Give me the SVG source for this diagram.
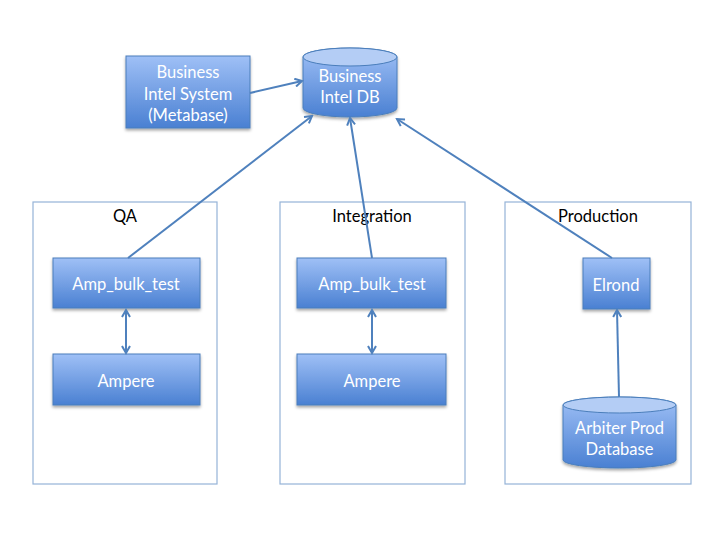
<svg xmlns="http://www.w3.org/2000/svg" width="720" height="540" viewBox="0 0 720 540">
<style>
.box{fill:url(#g);stroke:#4a7ebb;stroke-width:1;filter:url(#sh)}
.cont{fill:#fff;stroke:#95b3d7;stroke-width:1.2}
.wt{font-family:Lato,"Open Sans",sans-serif;font-size:16.5px;fill:#fff;text-anchor:middle}
.bt{font-family:Lato,"Open Sans",sans-serif;font-size:16.5px;fill:#000;text-anchor:middle}
.ln{stroke:#4f81bd;stroke-width:2;fill:none}
</style>
<defs>
<linearGradient id="g" x1="0" y1="0" x2="0" y2="1">
<stop offset="0" stop-color="#9fc0f6"/>
<stop offset="1" stop-color="#4a80d2"/>
</linearGradient>
<filter id="sh" x="-10%" y="-10%" width="120%" height="130%">
<feDropShadow dx="0" dy="2" stdDeviation="1.5" flood-color="#000" flood-opacity="0.35"/>
</filter>
<marker id="ah" markerWidth="10" markerHeight="10" refX="8" refY="5" orient="auto" markerUnits="userSpaceOnUse">
<path d="M1,1 L8,5 L1,9" fill="none" stroke="#4f81bd" stroke-width="2"/>
</marker>
<marker id="as" markerWidth="10" markerHeight="10" refX="2" refY="5" orient="auto" markerUnits="userSpaceOnUse">
<path d="M9,1 L2,5 L9,9" fill="none" stroke="#4f81bd" stroke-width="2"/>
</marker>
</defs>
<rect width="720" height="540" fill="#fff"/>

<g id="qa">
<rect class="cont" x="33" y="202" width="184" height="282"/>
<text class="bt" x="125" y="222">QA</text>
</g>
<g id="integration">
<rect class="cont" x="280" y="202" width="185" height="282"/>
<text class="bt" x="372" y="222">Integration</text>
</g>
<g id="production">
<rect class="cont" x="505" y="202" width="186" height="282"/>
<text class="bt" x="598" y="222">Production</text>
</g>

<g id="bis">
<rect class="box" x="126" y="56" width="124" height="72"/>
<text class="wt" x="188" y="78">Business</text>
<text class="wt" x="188" y="100">Intel System</text>
<text class="wt" x="188" y="121">(Metabase)</text>
</g>
<g id="bidb">
<path class="box" d="M303,57 A47,9 0 0 1 397,57 L397,108 A47,9 0 0 1 303,108 Z"/>
<ellipse cx="350" cy="57" rx="47" ry="9" fill="#b4cdf5" stroke="#4a7ebb"/>
<text class="wt" x="350" y="82">Business</text>
<text class="wt" x="350" y="103">Intel DB</text>
</g>

<g id="qa-amp">
<rect class="box" x="53" y="258" width="147" height="50"/>
<text class="wt" x="126" y="290">Amp_bulk_test</text>
</g>
<g id="qa-ampere">
<rect class="box" x="53" y="354" width="147" height="51"/>
<text class="wt" x="126" y="387">Ampere</text>
</g>
<g id="int-amp">
<rect class="box" x="297" y="258" width="149" height="50"/>
<text class="wt" x="372" y="290">Amp_bulk_test</text>
</g>
<g id="int-ampere">
<rect class="box" x="297" y="354" width="149" height="51"/>
<text class="wt" x="372" y="387">Ampere</text>
</g>
<g id="elrond">
<rect class="box" x="583" y="258" width="67" height="51"/>
<text class="wt" x="616" y="291">Elrond</text>
</g>
<g id="arbiter">
<path class="box" d="M563,405 A56.5,8 0 0 1 676,405 L676,460 A56.5,8 0 0 1 563,460 Z"/>
<ellipse cx="619.5" cy="405" rx="56.5" ry="8" fill="#b4cdf5" stroke="#4a7ebb"/>
<text class="wt" x="619.5" y="434">Arbiter Prod</text>
<text class="wt" x="619.5" y="455">Database</text>
</g>

<g id="connectors">
<line class="ln" x1="250" y1="93" x2="302" y2="81" marker-end="url(#ah)"/>
<line class="ln" x1="128" y1="258" x2="312" y2="116" marker-end="url(#ah)"/>
<line class="ln" x1="372" y1="258" x2="350" y2="118" marker-end="url(#ah)"/>
<line class="ln" x1="612" y1="258" x2="397" y2="119" marker-end="url(#ah)"/>
<line class="ln" x1="619" y1="397" x2="617" y2="310" marker-end="url(#ah)"/>
<line class="ln" x1="126" y1="310" x2="126" y2="353" marker-start="url(#as)" marker-end="url(#ah)"/>
<line class="ln" x1="372" y1="310" x2="372" y2="353" marker-start="url(#as)" marker-end="url(#ah)"/>
</g>
</svg>
